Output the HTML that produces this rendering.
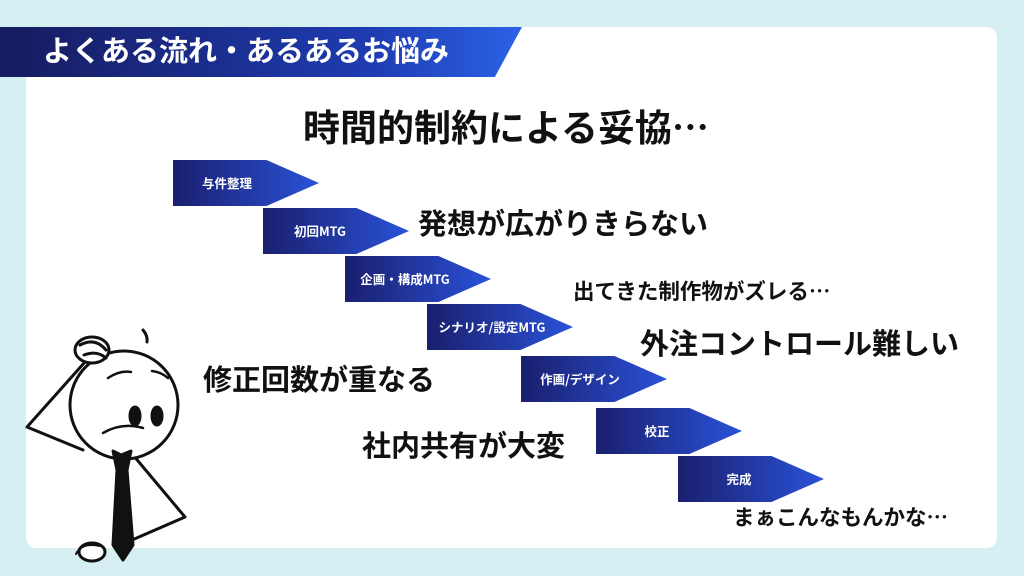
<!DOCTYPE html>
<html><head><meta charset="utf-8"><style>
body{margin:0;width:1024px;height:576px;background:#d5eff2;position:relative;overflow:hidden;font-family:"Liberation Sans","Noto Sans CJK JP",sans-serif;}
.card{position:absolute;left:26px;top:27px;width:971px;height:521px;background:#fff;border-radius:10px;}
.t{position:absolute;font-weight:bold;color:#111;white-space:nowrap;line-height:1;font-family:"Noto Sans CJK JP",sans-serif;}
.ar{position:absolute;height:46px;width:146px;clip-path:polygon(0 0,64% 0,100% 50%,64% 100%,0 100%);background:linear-gradient(90deg,#1a1f6e,#2a52d8);}
.lb{position:absolute;height:46px;width:200px;text-align:center;color:#fff;font-size:12.5px;font-weight:bold;line-height:46px;font-family:"Noto Sans CJK JP",sans-serif;}
</style></head><body>
<div class="card"></div>
<div style="position:absolute;left:0;top:27px;width:522px;height:50px;clip-path:polygon(0 0,100% 0,94.8% 100%,0 100%);background:linear-gradient(90deg,#161b5e,#1e3bb0 70%,#2b62e6);"></div>
<div class="t" style="left:43px;top:35px;font-size:29px;color:#fff;">よくある流れ・あるあるお悩み</div>

<div class="t" style="left:303px;top:107px;font-size:37px;">時間的制約による妥協…</div>
<div class="t" style="left:418px;top:208px;font-size:29px;">発想が広がりきらない</div>
<div class="t" style="left:573px;top:280px;font-size:21.5px;">出てきた制作物がズレる…</div>
<div class="t" style="left:640px;top:328px;font-size:29px;">外注コントロール難しい</div>
<div class="t" style="left:203px;top:364px;font-size:29px;">修正回数が重なる</div>
<div class="t" style="left:362px;top:430px;font-size:29px;">社内共有が大変</div>
<div class="t" style="left:733px;top:506px;font-size:21.5px;">まぁこんなもんかな…</div>

<div class="ar" style="left:173px;top:160px;"></div><div class="lb" style="left:127px;top:160px;">与件整理</div>
<div class="ar" style="left:263px;top:208px;"></div><div class="lb" style="left:220px;top:208px;">初回MTG</div>
<div class="ar" style="left:345px;top:256px;"></div><div class="lb" style="left:305px;top:256px;">企画・構成MTG</div>
<div class="ar" style="left:427px;top:304px;"></div><div class="lb" style="left:392px;top:304px;">シナリオ/設定MTG</div>
<div class="ar" style="left:521px;top:356px;"></div><div class="lb" style="left:480px;top:356px;">作画/デザイン</div>
<div class="ar" style="left:596px;top:408px;"></div><div class="lb" style="left:557px;top:408px;">校正</div>
<div class="ar" style="left:678px;top:456px;"></div><div class="lb" style="left:639px;top:456px;">完成</div>

<svg style="position:absolute;left:0;top:300px" width="220" height="276" viewBox="0 300 220 276" fill="none" stroke="#111" stroke-width="3" stroke-linecap="round" stroke-linejoin="round">
<path d="M93 353 L27 427 L83 450"/>
<path d="M133 455 L185 517 L132 540"/>
<circle cx="124" cy="405" r="54" fill="#fff"/>
<path d="M113 451 L121 455 L131 451 L127 470 L133 545 L123 560 L113 545 L117 470 Z" fill="#111"/>
<ellipse cx="92" cy="350" rx="17" ry="13" fill="#fff"/>
<path d="M80 345 Q95 337 106 350 M84 355 Q97 350 106 358"/>
<path d="M143 330 Q148 336 147 342"/>
<ellipse cx="92" cy="552" rx="13" ry="9" fill="#fff"/>
<path d="M76 554 Q82 542 100 546" stroke-width="2"/>
<path d="M103 433 Q122 422 143 428" stroke-width="2.5"/>
<path d="M108 378 Q120 370 131 372 M152 371 Q161 372 168 378" stroke-width="2.5"/>
<ellipse cx="135" cy="416" rx="5" ry="9" fill="#111"/>
<ellipse cx="157" cy="416" rx="5" ry="9" fill="#111"/>
</svg>
</body></html>
